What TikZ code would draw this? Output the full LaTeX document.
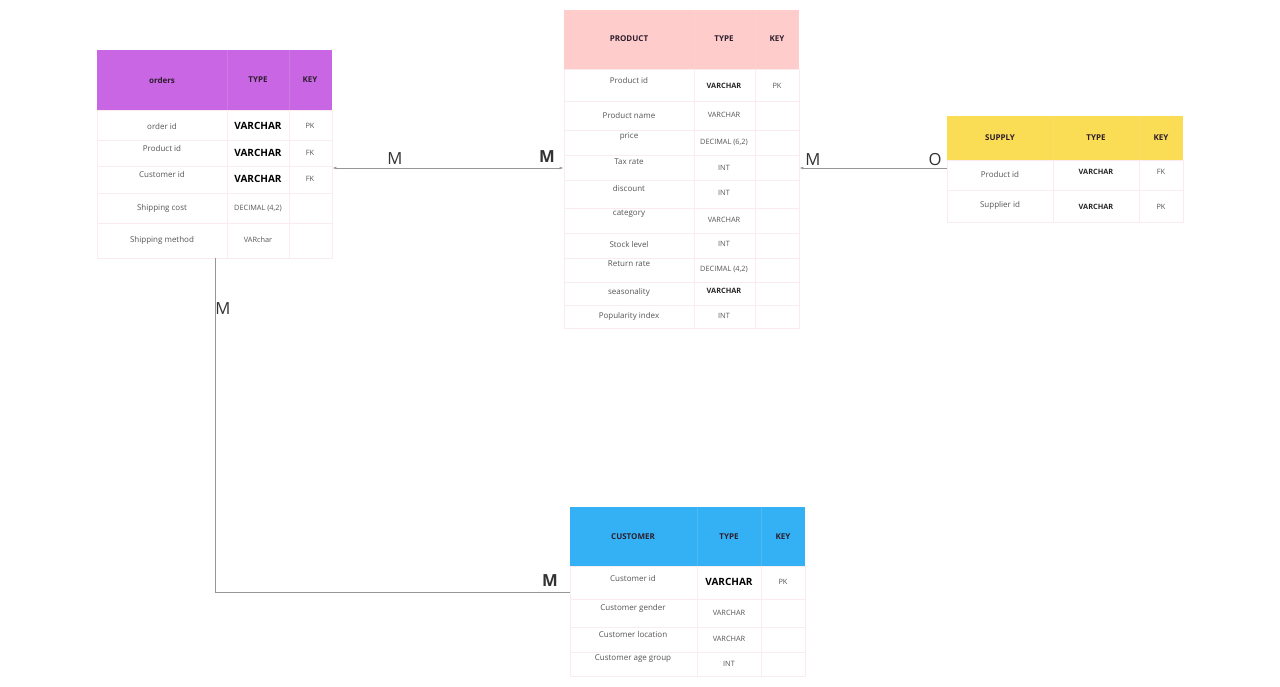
\documentclass[tikz,border=0pt]{standalone}
\usepackage{fontspec}
\setmainfont{Open Sans}
\usetikzlibrary{arrows.meta,positioning,fit}
\definecolor{ordcolor}{RGB}{200,102,228}
\definecolor{prodcolor}{RGB}{255,204,204}
\definecolor{supcolor}{RGB}{250,220,85}
\definecolor{custcolor}{RGB}{52,176,245}
\definecolor{gridcolor}{RGB}{250,236,236}
\definecolor{headink}{RGB}{45,30,45}
\definecolor{cellink}{RGB}{85,85,85}
\definecolor{linkgray}{RGB}{150,150,150}
\newcommand{\bigtype}[1]{{\fontsize{7.5}{8}\selectfont\bfseries\color{black}#1}}
\newcommand{\darktype}[1]{{\bfseries\color{black!85}#1}}

\begin{document}
\begin{tikzpicture}[x=0.75pt,y=-0.75pt,
  grid/.style={draw=gridcolor,line width=0.5pt},
  headtxt/.style={font=\fontsize{6}{7}\selectfont\bfseries,text=headink,inner sep=1pt},
  celltxt/.style={font=\fontsize{6}{7}\selectfont,text=cellink,inner sep=1pt},
  typetxt/.style={font=\fontsize{5.5}{6.5}\selectfont,text=cellink,inner sep=1pt},
  link/.style={draw=linkgray,line width=0.6pt},
  card/.style={font=\fontsize{12.5}{14}\selectfont,text=black!80,inner sep=0pt}]
  \useasboundingbox[fill=white] (0,0) rectangle (1280,686);
  % ---------------- orders
  \begin{scope}
    \fill[ordcolor] (97,50) rectangle (332,110);
    \node[headtxt] (ord-head) at (162,80) {orders};
    \node[headtxt] (ord-htype) at (258,80) {TYPE};
    \node[headtxt] (ord-hkey) at (310,80) {KEY};
    \foreach \ya/\yb/\yn/\yt/\nm/\ty/\ky [count=\i] in {
        110/140/126/126/order id/\bigtype{VARCHAR}/PK,
        140/166/148/153/Product id/\bigtype{VARCHAR}/FK,
        166/193/174/179/Customer id/\bigtype{VARCHAR}/FK,
        193/223/208/208/Shipping cost/{DECIMAL (4,2)}/{},
        223/258/240/240/Shipping method/VARchar/{}} {
      \draw[grid] (97,\ya) rectangle (332,\yb);
      \node[celltxt] (ord-name-\i) at (162,\yn) {\nm};
      \node[typetxt] (ord-type-\i) at (258,\yt) {\ty};
      \node[typetxt] (ord-key-\i) at (310,\yt) {\ky};
    }
    \draw[grid] (227,110) -- (227,258) (289,110) -- (289,258);
    \draw[grid,opacity=0.15] (227,50) -- (227,110) (289,50) -- (289,110);
    \node[fit={(97,50) (332,258)},inner sep=0] (orders) {};
  \end{scope}
  % ---------------- product
  \begin{scope}
    \fill[prodcolor] (564,10) rectangle (799,69);
    \node[headtxt] (prod-head) at (629,39) {PRODUCT};
    \node[headtxt] (prod-htype) at (724,39) {TYPE};
    \node[headtxt] (prod-hkey) at (777,39) {KEY};
    \foreach \ya/\yb/\yn/\yt/\nm/\ty/\ky [count=\i] in {
        69/101/80/86/Product id/\darktype{VARCHAR}/PK,
        101/130/115/115/Product name/VARCHAR/{},
        130/155/137/142/price/{DECIMAL (6,2)}/{},
        155/180/162/168/Tax rate/INT/{},
        180/208/188/193/discount/INT/{},
        208/233/214/220/category/VARCHAR/{},
        233/258/244/244/Stock level/INT/{},
        258/282/264/269/Return rate/{DECIMAL (4,2)}/{},
        282/305/292/291/seasonality/\darktype{VARCHAR}/{},
        305/328/316/316/Popularity index/INT/{}} {
      \draw[grid] (564,\ya) rectangle (799,\yb);
      \node[celltxt] (prod-name-\i) at (629,\yn) {\nm};
      \node[typetxt] (prod-type-\i) at (724,\yt) {\ty};
      \node[typetxt] (prod-key-\i) at (777,\yt) {\ky};
    }
    \draw[grid] (694,69) -- (694,328) (755,69) -- (755,328);
    \draw[grid,opacity=0.15] (694,10) -- (694,69) (755,10) -- (755,69);
    \node[fit={(564,10) (799,328)},inner sep=0] (product) {};
  \end{scope}
  % ---------------- supply
  \begin{scope}
    \fill[supcolor] (947,116) rectangle (1183,160);
    \node[headtxt] (sup-head) at (1000,138) {SUPPLY};
    \node[headtxt] (sup-htype) at (1096,138) {TYPE};
    \node[headtxt] (sup-hkey) at (1161,138) {KEY};
    \foreach \ya/\yb/\yn/\yt/\nm/\ty/\ky [count=\i] in {
        160/190/174/172/Product id/\darktype{VARCHAR}/FK,
        190/222/205/207/Supplier id/\darktype{VARCHAR}/PK} {
      \draw[grid] (947,\ya) rectangle (1183,\yb);
      \node[celltxt] (sup-name-\i) at (1000,\yn) {\nm};
      \node[typetxt] (sup-type-\i) at (1096,\yt) {\ty};
      \node[typetxt] (sup-key-\i) at (1161,\yt) {\ky};
    }
    \draw[grid] (1053,160) -- (1053,222) (1139,160) -- (1139,222);
    \draw[grid,opacity=0.15] (1053,116) -- (1053,160) (1139,116) -- (1139,160);
    \node[fit={(947,116) (1183,222)},inner sep=0] (supply) {};
  \end{scope}
  % ---------------- customer
  \begin{scope}
    \fill[custcolor] (570,507) rectangle (805,566);
    \node[headtxt] (cust-head) at (633,537) {CUSTOMER};
    \node[headtxt] (cust-htype) at (729,537) {TYPE};
    \node[headtxt] (cust-hkey) at (783,537) {KEY};
    \foreach \ya/\yb/\yn/\yt/\nm/\ty/\ky [count=\i] in {
        566/599/578/582/Customer id/\bigtype{VARCHAR}/PK,
        599/627/608/613/Customer gender/VARCHAR/{},
        627/652/634/639/Customer location/VARCHAR/{},
        652/676/659/664/Customer age group/INT/{}} {
      \draw[grid] (570,\ya) rectangle (805,\yb);
      \node[celltxt] (cust-name-\i) at (633,\yn) {\nm};
      \node[typetxt] (cust-type-\i) at (729,\yt) {\ty};
      \node[typetxt] (cust-key-\i) at (783,\yt) {\ky};
    }
    \draw[grid] (697,566) -- (697,676) (761,566) -- (761,676);
    \draw[grid,opacity=0.15] (697,507) -- (697,566) (761,507) -- (761,566);
    \node[fit={(570,507) (805,676)},inner sep=0] (customer) {};
  \end{scope}
  % ---------------- links
  \coordinate (bend) at (215,592);
  \draw[link,{Latex[length=3pt,width=2pt]}-{Latex[length=3pt,width=2pt]}]
    (orders.east |- prod-type-4) -- (product.west |- prod-type-4);
  \draw[link,{Latex[length=3pt,width=2pt]}-]
    (product.east |- prod-type-4) -- (supply.west |- prod-type-4);
  \draw[link] (bend |- orders.south) -- (bend) -- (bend -| customer.west);
  \node[card] (m-ord) at (395,159) {M};
  \node[card,font=\fontsize{12.5}{14}\selectfont\bfseries] (m-prod) at (547,157) {M};
  \node[card] (m-prod2) at (813,160) {M};
  \node[card] (o-sup) at (935,160) {O};
  \node[card] (m-ord2) at (223,309) {M};
  \node[card,font=\fontsize{12.5}{14}\selectfont\bfseries] (m-cust) at (550,581) {M};
\end{tikzpicture}
\end{document}
